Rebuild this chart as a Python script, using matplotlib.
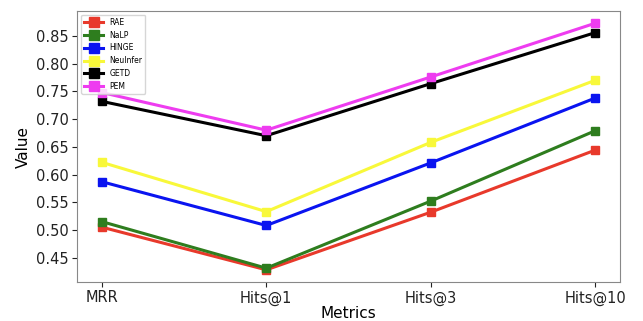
import matplotlib
matplotlib.use("Agg")
import matplotlib.pyplot as plt

metrics = ['MRR', 'Hits@1', 'Hits@3', 'Hits@10']
rae = [0.505, 0.428, 0.532, 0.644]
nalp = [0.515, 0.431, 0.552, 0.679]
hinge = [0.587, 0.508, 0.621, 0.738]
neuinfer = [0.622, 0.533, 0.658, 0.770]
getd = [0.732, 0.670, 0.764, 0.856]
pem = [0.748, 0.680, 0.776, 0.873]
yticks = [0.45, 0.50, 0.55, 0.60, 0.65, 0.70, 0.75, 0.80, 0.85]

series = [
    ('RAE', rae, '#e8392b'),
    ('NaLP', nalp, '#2e7d1e'),
    ('HINGE', hinge, '#0a14f0'),
    ('NeuInfer', neuinfer, '#f8f83a'),
    ('GETD', getd, 'black'),
    ('PEM', pem, '#ee3cf0'),
]

fig = plt.figure(figsize=(6.43, 3.21), dpi=100)
ax = fig.add_axes([0.12, 0.121, 0.844, 0.845])

for name, vals, c in series:
    ax.plot(metrics, vals, color=c, marker='s', markersize=6, linewidth=2.2, label=name)

ax.set_yticks(yticks)
ax.set_yticklabels(['%.2f' % t for t in yticks])
ax.set_xlabel('Metrics', fontsize=11, labelpad=0)
ax.set_ylabel('Value', fontsize=11, labelpad=4)
ax.tick_params(labelsize=10.5, colors='#222222', pad=2.5)
for s in ax.spines.values():
    s.set_color('#888888')
ax.legend(loc='upper left', fontsize=5.5, handlelength=2.5, labelspacing=0.5, markerscale=1.3)

fig.savefig('out.png', dpi=100)
